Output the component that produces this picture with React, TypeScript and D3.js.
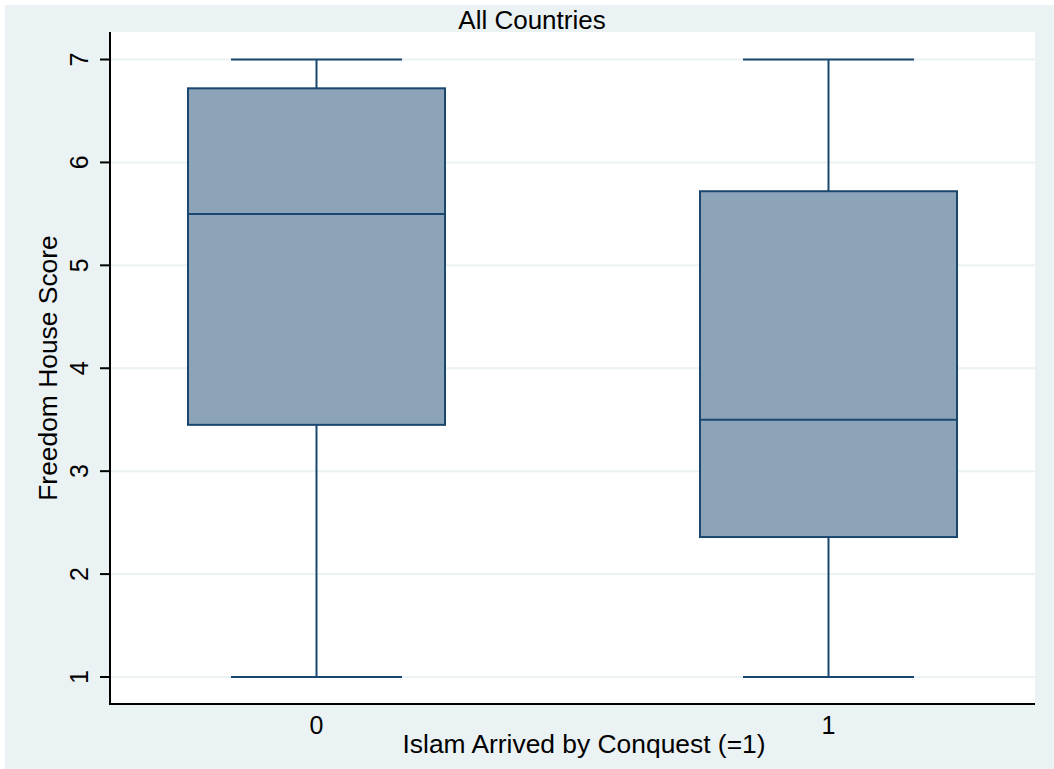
import React from "react";
import * as d3 from "d3";

const categories = ["0", "1"];
const whiskerLow = [1, 1];
const q1 = [3.45, 2.36];
const median = [5.5, 3.5];
const q3 = [6.72, 5.72];
const whiskerHigh = [7, 7];
const yTicks = [1, 2, 3, 4, 5, 6, 7];

const title = "All Countries";
const xTitle = "Islam Arrived by Conquest (=1)";
const yTitle = "Freedom House Score";

const W = 1054;
const H = 769;
const plot = { left: 110, right: 1035, top: 32, bottom: 704 };
const BG = "#EAF2F3";
const NAVY = "#1A476F";
const FILL = "#8CA3B8";
const FONT = "'Liberation Sans', Arial, Helvetica, sans-serif";

export default function App() {
  const x = d3
    .scalePoint<string>()
    .domain(categories)
    .range([plot.left, plot.right])
    .padding(0.4033);
  const step = x.step();
  const boxW = step * 0.502;
  const capW = step * 0.334;
  const y = d3.scaleLinear().domain([1, 7]).range([677, 59.5]);

  return (
    <svg
      width={W}
      height={H}
      style={{ position: "absolute", left: 0, top: 0, display: "block" }}
      fontFamily={FONT}
    >
      <rect x={0} y={0} width={W} height={H} fill="#fff" />
      <rect x={5} y={5} width={W - 5} height={H - 5} fill={BG} />
      <rect
        x={plot.left}
        y={plot.top}
        width={plot.right - plot.left}
        height={plot.bottom - plot.top}
        fill="#fff"
      />
      {yTicks.map((t) => (
        <line
          key={"g" + t}
          x1={plot.left}
          x2={plot.right}
          y1={y(t)}
          y2={y(t)}
          stroke={BG}
          strokeWidth={2}
        />
      ))}
      {categories.map((c, i) => {
        const cx = x(c)!;
        return (
          <g key={c}>
            <line x1={cx} x2={cx} y1={y(whiskerHigh[i])} y2={y(q3[i])} stroke={NAVY} strokeWidth={2} />
            <line x1={cx} x2={cx} y1={y(q1[i])} y2={y(whiskerLow[i])} stroke={NAVY} strokeWidth={2} />
            <line x1={cx - capW / 2} x2={cx + capW / 2} y1={y(whiskerHigh[i])} y2={y(whiskerHigh[i])} stroke={NAVY} strokeWidth={2} />
            <line x1={cx - capW / 2} x2={cx + capW / 2} y1={y(whiskerLow[i])} y2={y(whiskerLow[i])} stroke={NAVY} strokeWidth={2} />
            <rect
              x={cx - boxW / 2}
              y={y(q3[i])}
              width={boxW}
              height={y(q1[i]) - y(q3[i])}
              fill={FILL}
              stroke={NAVY}
              strokeWidth={2}
            />
            <line x1={cx - boxW / 2} x2={cx + boxW / 2} y1={y(median[i])} y2={y(median[i])} stroke={NAVY} strokeWidth={2} />
            <text x={cx} y={734} textAnchor="middle" fontSize={25} fill="#000">
              {c}
            </text>
          </g>
        );
      })}
      <line x1={plot.left} x2={plot.left} y1={plot.top} y2={plot.bottom + 1} stroke="#000" strokeWidth={2} />
      <line x1={plot.left} x2={plot.right} y1={plot.bottom} y2={plot.bottom} stroke="#000" strokeWidth={2} />
      {yTicks.map((t) => (
        <g key={"t" + t}>
          <line x1={plot.left - 10} x2={plot.left} y1={y(t)} y2={y(t)} stroke="#000" strokeWidth={2} />
          <text
            transform={`translate(88,${y(t)}) rotate(-90)`}
            textAnchor="middle"
            fontSize={25}
            fill="#000"
          >
            {t}
          </text>
        </g>
      ))}
      <text x={532} y={29} textAnchor="middle" fontSize={26} fill="#000">
        {title}
      </text>
      <text x={584} y={753} textAnchor="middle" fontSize={26.4} fill="#000">
        {xTitle}
      </text>
      <text
        transform={`translate(57,${(plot.top + plot.bottom) / 2}) rotate(-90)`}
        textAnchor="middle"
        fontSize={26.4}
        fill="#000"
      >
        {yTitle}
      </text>
    </svg>
  );
}
